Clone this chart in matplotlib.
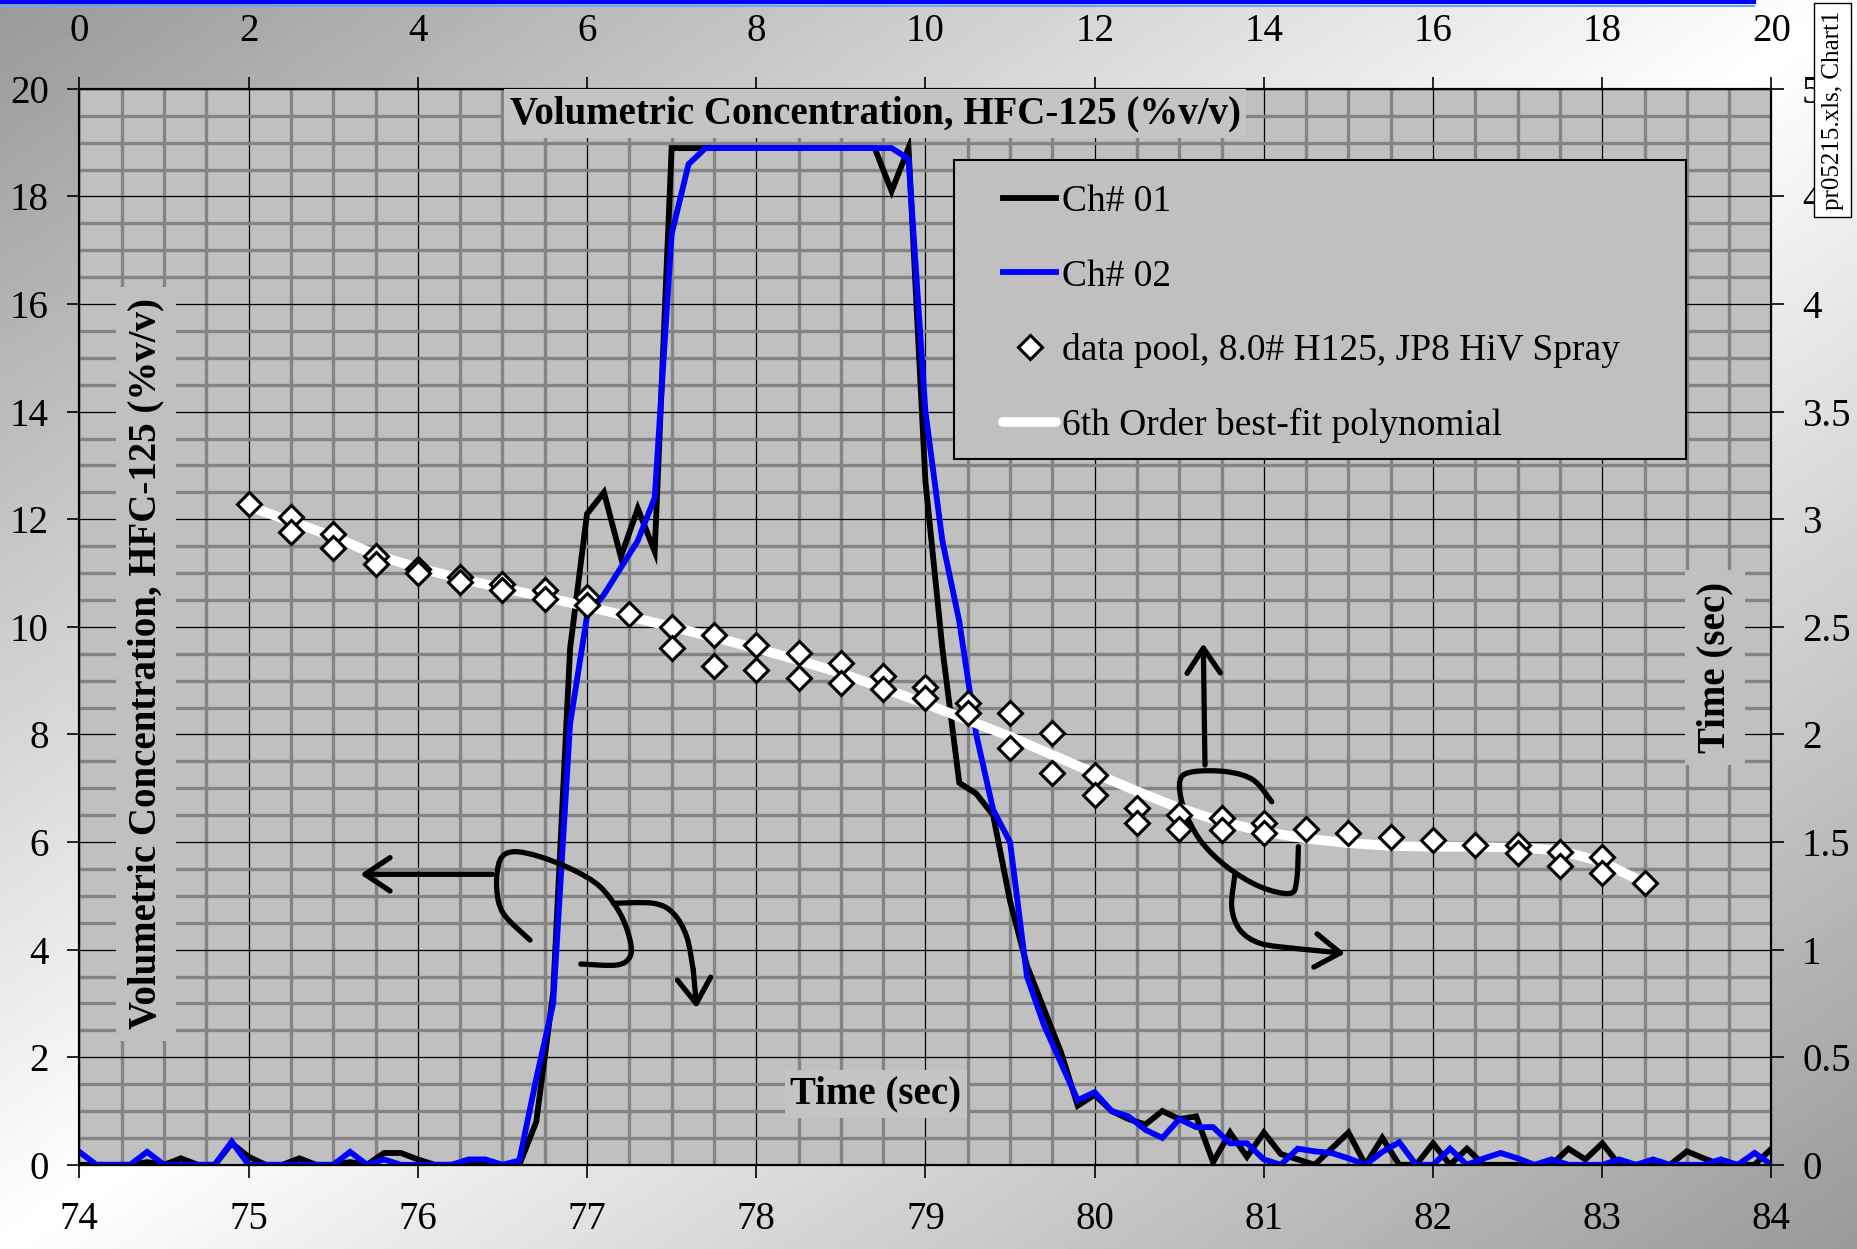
import numpy as np
import matplotlib.pyplot as plt
from matplotlib.ticker import MultipleLocator, FormatStrFormatter
from matplotlib.lines import Line2D
from matplotlib.patches import Rectangle, PathPatch
from matplotlib.path import Path

plt.rcParams['font.family'] = 'Liberation Serif'

# HFC-125 concentration (%v/v), one reading every 0.1 s from 74.0 to 84.0 s
time_s = np.round(np.arange(74.0, 84.05, 0.1), 1)
ch01 = [0, 0, 0, 0, 0.05, 0, 0.12, 0, 0, 0.4,
        0.15, 0, 0, 0.12, 0, 0, 0.05, 0, 0.22, 0.22,
        0.1, 0, 0, 0.05, 0.05, 0, 0, 0.8, 3.2, 9.6,
        12.1, 12.5, 11.3, 12.2, 11.4, 18.9, 18.9, 18.9, 18.9, 18.9,
        18.9, 18.9, 18.9, 18.9, 18.9, 18.9, 18.9, 18.9, 18.1, 18.9,
        12.7, 9.6, 7.1, 6.9, 6.5, 4.9, 3.7, 2.9, 2.1, 1.1,
        1.3, 1.0, 0.85, 0.75, 1.0, 0.85, 0.9, 0.05, 0.6, 0.15,
        0.6, 0.2, 0.1, 0, 0.3, 0.6, 0, 0.5, 0, 0,
        0.4, 0, 0.3, 0, 0, 0, 0, 0, 0.3, 0.1,
        0.4, 0, 0, 0, 0, 0.25, 0.12, 0, 0, 0,
        0.3]
ch02 = [0.24, 0, 0, 0, 0.24, 0, 0, 0, 0, 0.43,
        0, 0, 0, 0, 0, 0, 0.24, 0, 0.1, 0,
        0, 0, 0, 0.1, 0.1, 0, 0.08, 1.6, 3.0, 8.2,
        10.2, 10.6, 11.1, 11.6, 12.4, 17.3, 18.6, 18.9, 18.9, 18.9,
        18.9, 18.9, 18.9, 18.9, 18.9, 18.9, 18.9, 18.9, 18.9, 18.7,
        14.0, 11.6, 10.1, 8.0, 6.6, 6.0, 3.5, 2.6, 1.9, 1.2,
        1.35, 1.0, 0.9, 0.65, 0.5, 0.85, 0.7, 0.7, 0.4, 0.4,
        0.1, 0, 0.3, 0.25, 0.22, 0.12, 0, 0.24, 0.42, 0,
        0, 0.3, 0, 0.12, 0.22, 0.12, 0, 0.1, 0, 0,
        0, 0.1, 0, 0.1, 0, 0, 0, 0.1, 0, 0.22,
        0]

# data pool: top axis (0-20) against right axis time (sec)
pool_x = [2, 2.5, 2.5, 3, 3, 3.5, 3.5, 4, 4, 4.5, 4.5, 5, 5, 5.5, 5.5, 6, 6, 6.5,
          7, 7, 7.5, 7.5, 8, 8, 8.5, 8.5, 9, 9, 9.5, 9.5, 10, 10, 10.5, 10.5,
          11, 11, 11.5, 11.5, 12, 12, 12.5, 12.5, 13, 13, 13.5, 13.5, 14, 14,
          14.5, 15, 15.5, 16, 16.5, 17, 17, 17.5, 17.5, 18, 18, 18.5]
pool_t = [3.07, 3.01, 2.94, 2.93, 2.865, 2.83, 2.79, 2.77, 2.75, 2.73, 2.71, 2.70, 2.67,
          2.67, 2.63, 2.64, 2.60, 2.56, 2.50, 2.40, 2.46, 2.32, 2.415, 2.30, 2.38, 2.26,
          2.33, 2.24, 2.27, 2.21, 2.22, 2.17, 2.145, 2.10, 2.10, 1.935, 2.005, 1.82,
          1.81, 1.72, 1.66, 1.59, 1.625, 1.56, 1.61, 1.556, 1.59, 1.54, 1.56, 1.54,
          1.525, 1.51, 1.486, 1.486, 1.45, 1.455, 1.39, 1.43, 1.355, 1.31]

# 6th order best-fit polynomial as drawn
fit_x = [2, 2.5, 3, 3.5, 4, 4.5, 5, 5.5, 6, 6.5, 7, 7.5, 8, 8.5, 9, 9.5, 10, 10.5,
         11, 11.5, 12, 12.5, 13, 13.5, 14, 14.5, 15, 15.5, 16, 16.5, 17, 17.5, 18, 18.5]
fit_t = [3.06, 2.99, 2.92, 2.835, 2.775, 2.725, 2.68, 2.638, 2.595, 2.548, 2.50, 2.452,
         2.40, 2.345, 2.285, 2.215, 2.143, 2.067, 1.99, 1.905, 1.82, 1.736, 1.658, 1.595,
         1.548, 1.516, 1.495, 1.482, 1.478, 1.477, 1.475, 1.46, 1.408, 1.31]

# hand-drawn axis pointers (bottom/left data units)
left_arrow_x, left_arrow_y = [76.44, 75.66], [5.4, 5.4]
loop_a_x = [76.663, 76.505, 76.466, 76.486, 76.564, 76.722, 76.919, 77.077, 77.195, 77.254, 77.254, 77.176, 76.963]
loop_a_y = [4.178, 4.675, 5.169, 5.665, 5.820, 5.727, 5.480, 5.169, 4.675, 4.178, 3.868, 3.714, 3.732]
hook_a_x = [77.156, 77.392, 77.510, 77.589, 77.628, 77.648]
hook_a_y = [4.861, 4.861, 4.675, 4.240, 3.621, 2.909]
up_arrow_x, up_arrow_y = [80.652, 80.642], [7.431, 9.693]
loop_b_x = [81.047, 80.938, 80.781, 80.583, 80.505, 80.524, 80.623, 80.781, 80.978, 81.155, 81.194, 81.204]
loop_b_y = [6.749, 7.152, 7.307, 7.307, 7.152, 6.656, 6.037, 5.541, 5.169, 5.046, 5.294, 5.913]
hook_b_x = [80.830, 80.810, 80.859, 80.978, 81.174, 81.480]
hook_b_y = [5.418, 4.797, 4.364, 4.117, 4.024, 3.931]


def smooth_stroke(xs, ys):
    # Catmull-Rom style cubic path through the sketched points
    p = np.column_stack([xs, ys])
    verts, codes = [p[0]], [Path.MOVETO]
    for i in range(len(p) - 1):
        a = p[i - 1] if i > 0 else p[i]
        d = p[i + 2] if i + 2 < len(p) else p[i + 1]
        verts += [p[i] + (p[i + 1] - a) / 6, p[i + 1] - (d - p[i]) / 6, p[i + 1]]
        codes += [Path.CURVE4] * 3
    return Path(verts, codes)


fig = plt.figure(figsize=(18.58, 12.49), dpi=100)

# grey diagonal gradient behind everything
bg = fig.add_axes([0, 0, 1, 1], zorder=-10)
gx, gy = np.meshgrid(np.linspace(0, 1, 400), np.linspace(0, 1, 300))
bg.imshow(1 - 0.4 * np.abs(gx + gy - 1), cmap='gray', vmin=0, vmax=1, aspect='auto')
bg.axis('off')

ax = fig.add_axes([0.04273, 0.06741, 0.91071, 0.86141])
ax.set_facecolor('#c0c0c0')
ax.set_xlim(74, 84)
ax.set_ylim(0, 20)
ax.xaxis.set_major_locator(MultipleLocator(1))
ax.xaxis.set_minor_locator(MultipleLocator(0.25))
ax.yaxis.set_major_locator(MultipleLocator(2))
ax.yaxis.set_minor_locator(MultipleLocator(0.5))
ax.set_axisbelow(True)
ax.grid(which='minor', color='#848484', lw=2.4)
ax.grid(which='major', color='black', lw=0.9)
ax.tick_params(which='major', direction='out', length=9, width=1.2, labelsize=28)
ax.tick_params(axis='x', pad=17)
ax.tick_params(axis='y', pad=13)
ax.tick_params(which='minor', length=0)

l1, = ax.plot(time_s, ch01, color='black', lw=4.2, solid_joinstyle='miter', label='Ch# 01')
l2, = ax.plot(time_s, ch02, color='#0000ff', lw=4.2, solid_joinstyle='miter', label='Ch# 02')

ax2 = ax.twinx()
ax2.set_ylim(0, 5)
ax2.yaxis.set_major_locator(MultipleLocator(0.5))
ax2.yaxis.set_major_formatter(FormatStrFormatter('%g'))
ax2.tick_params(axis='y', direction='out', length=9, width=1.2, labelsize=28, pad=13)

ax3 = ax2.twiny()
ax3.set_xlim(0, 20)
ax3.xaxis.set_major_locator(MultipleLocator(2))
ax3.tick_params(axis='x', direction='out', length=9, width=1.2, labelsize=28, pad=19)

l4, = ax3.plot(fit_x, fit_t, color='white', lw=7, solid_capstyle='round',
               solid_joinstyle='round', label='6th Order best-fit polynomial')
l3, = ax3.plot(pool_x, pool_t, ls='none', marker='D', ms=12.5, mfc='white', mec='black',
               mew=2.2, label='data pool, 8.0# H125, JP8 HiV Spray')

for sp in list(ax.spines.values()) + list(ax3.spines.values()):
    sp.set_color('black')
    sp.set_linewidth(1.5)

# hand-drawn pointers
for xs, ys in [(loop_a_x, loop_a_y), (hook_a_x[:-1], hook_a_y[:-1]),
               (loop_b_x, loop_b_y), (hook_b_x[:-1], hook_b_y[:-1])]:
    ax3.add_patch(PathPatch(smooth_stroke(xs, ys), transform=ax.transData, fill=False,
                            edgecolor='black', lw=3.8, capstyle='round', joinstyle='round'))
for xs, ys in [(left_arrow_x, left_arrow_y), (hook_a_x[-2:], hook_a_y[-2:]),
               (up_arrow_x, up_arrow_y), (hook_b_x[-2:], hook_b_y[-2:])]:
    ax3.annotate('', xy=(xs[1], ys[1]), xytext=(xs[0], ys[0]),
                 xycoords=ax.transData, textcoords=ax.transData,
                 arrowprops=dict(arrowstyle='->,head_length=0.45,head_width=0.3',
                                 lw=3.8, color='black', mutation_scale=40,
                                 shrinkA=0, shrinkB=0))

box = dict(facecolor='#c4c4c4', edgecolor='none', boxstyle='square,pad=0.15')
ax3.text(0.4702, 0.977, 'Volumetric Concentration, HFC-125 (%v/v)', transform=ax3.transAxes,
         ha='center', va='center', fontsize=28, fontweight='bold', bbox=box)
ax3.text(0.0395, 0.4655, 'Volumetric Concentration, HFC-125 (%v/v)', transform=ax3.transAxes,
         ha='center', va='center', rotation=90, fontsize=28, fontweight='bold',
         bbox=dict(facecolor='#c0c0c0', edgecolor='none', boxstyle='square,pad=0.3'))
ax3.text(0.9666, 0.4622, 'Time (sec)', transform=ax3.transAxes, ha='center', va='center',
         rotation=90, fontsize=28, fontweight='bold',
         bbox=dict(facecolor='#c0c0c0', edgecolor='none', boxstyle='square,pad=0.3'))
ax3.text(0.4708, 0.0658, 'Time (sec)', transform=ax3.transAxes, ha='center', va='center',
         fontsize=28, fontweight='bold', bbox=box)

# legend box drawn separately so its padding can match
fig.add_artist(Rectangle((954 / 1858, 1 - 459 / 1249), 732 / 1858, 299 / 1249,
                         transform=fig.transFigure, facecolor='#c0c0c0',
                         edgecolor='black', lw=1.5, zorder=4.8))
leg = fig.legend(handles=[l1, l2, l3, l4], loc='upper left',
                 bbox_to_anchor=(0.5339, 0.8610), borderaxespad=0, fontsize=27,
                 labelspacing=1.06, borderpad=0.3, handlelength=1.41,
                 handletextpad=0.16, frameon=False)
leg.set_zorder(5)

# window frame strip and sheet tag at the top
fig.add_artist(Line2D([0, 0.944], [0.9985, 0.9985], color='#0000ff', lw=3,
                      transform=fig.transFigure))
fig.add_artist(Line2D([0, 0.944], [0.9950, 0.9950], color='#5fa8ff', lw=1.5,
                      transform=fig.transFigure))
fig.text(0.9865, 0.912, 'pr05215.xls, Chart1', rotation=90, fontsize=18,
         ha='center', va='center', zorder=6,
         bbox=dict(facecolor='white', edgecolor='black', boxstyle='square,pad=0.3'))

fig.savefig('out.png', dpi=100)
